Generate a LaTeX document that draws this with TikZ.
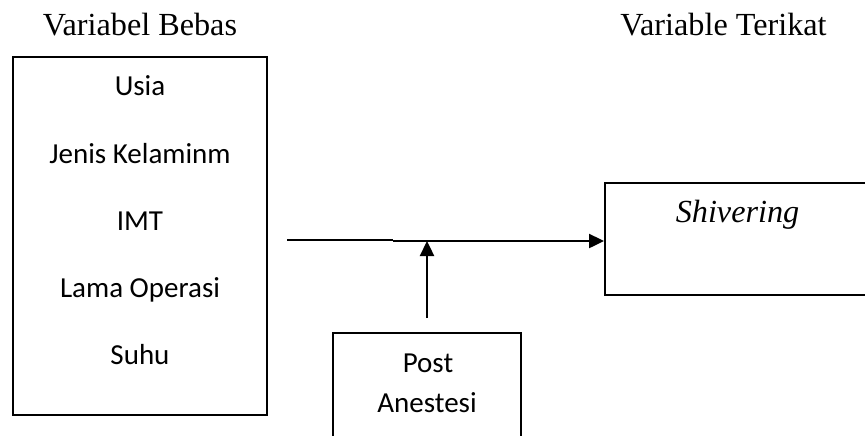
\documentclass[tikz,border=0pt]{standalone}
\usepackage{fontspec}
\setmainfont{Liberation Serif}
\newfontfamily\calibri{Carlito}
\usetikzlibrary{arrows.meta}
\usetikzlibrary{positioning}
\tikzset{
  kotak/.style = {rectangle, draw=black, line width=1pt, inner sep=0pt},
  teks_judul/.style = {font=\fontsize{16.1}{19}\selectfont, inner sep=0pt,
    anchor=base},% judul variabel
  teks_isi/.style = {font=\calibri\fontsize{14.5}{17}\selectfont, inner sep=0pt,
    anchor=base},% isi kotak
  panah/.style = {line width=1.2pt, -{Triangle[length=7.5pt,width=7pt]}}
}

\begin{document}
\begin{tikzpicture}[x=0.5pt,y=-0.5pt]
\useasboundingbox (0,0) rectangle (865,435);
\clip (0,0) rectangle (865,435);
% kotak
\node [kotak, minimum width=127pt, minimum height=179pt] (bebas) at (140,236) {};
\node [kotak, minimum width=132.5pt, minimum height=56pt] (shiv) at (737.5,239) {};
\node [kotak, minimum width=94pt, minimum height=56pt] (post) at (427,389) {};
% judul
\node [teks_judul] (jbebas) at (140,35) {Variabel Bebas};
\node [teks_judul] (jterikat) at (723.5,35) {Variable Terikat};
% isi
\node [teks_isi] (usia) at (140,95) {Usia};
\node [teks_isi] (jk) at (140,163) {Jenis Kelaminm};
\node [teks_isi] (imt) at (140,230) {IMT};
\node [teks_isi] (lama) at (140,297) {Lama Operasi};
\node [teks_isi] (suhu) at (140,364) {Suhu};
\node [teks_judul] (tshiv) at (737.5,222) {\itshape Shivering};
\node [teks_isi] (tpost) at (428,372) {Post};
\node [teks_isi] (tanes) at (427,412) {Anestesi};
% garis
\coordinate (kiri) at (287,240);
\coordinate (sambung) at (393,241);
\coordinate (bawah) at (427,318);
\draw [line width=1pt] (kiri) -- (kiri -| sambung);
\draw [panah] (sambung) -- (shiv.west |- sambung);
\draw [panah] (bawah) -- (bawah |- sambung);
\end{tikzpicture}
\end{document}
